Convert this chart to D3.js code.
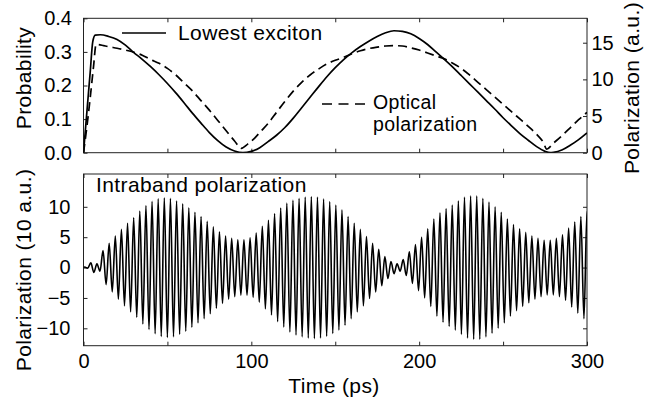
<!DOCTYPE html>
<html lang="en">
<head>
<meta charset="UTF-8">
<title>Exciton and polarization dynamics</title>
<script src="https://cdnjs.cloudflare.com/ajax/libs/d3/7.8.5/d3.min.js"></script>
<style>
    body { margin: 0; background: #fff; }
    svg { display: block; font-family: "Liberation Sans", Arial, Helvetica, sans-serif; }
    .tick line { stroke: #222; }
    .tick text { fill: #000; font-size: 20px; }
    .lbl { fill: #000; font-size: 21px; letter-spacing: 0.4px; }
</style>
</head>
<body>
<svg id="chart" width="649" height="404"></svg>
<script>
// ---- data ----
// top panel: lowest exciton probability (left axis)
const excitonT = [0, 2, 4, 5.5, 7, 10, 15, 20, 25, 30, 35, 40, 45, 50, 55, 60, 65, 70, 75, 80, 85, 90, 95,
    100, 105, 110, 115, 120, 125, 130, 135, 140, 145, 150, 155, 160, 165, 170, 175, 180, 185, 190, 195,
    200, 205, 210, 215, 220, 225, 230, 235, 240, 245, 250, 255, 260, 265, 270, 275, 278, 280, 285, 290, 295, 300];
const excitonP = [0, 0.12, 0.24, 0.33, 0.35, 0.351, 0.346, 0.337, 0.32, 0.298, 0.278, 0.256, 0.232, 0.206, 0.178,
    0.148, 0.117, 0.088, 0.06, 0.036, 0.017, 0.005, 0,
    0.004, 0.015, 0.033, 0.052, 0.075, 0.103, 0.134, 0.165, 0.196, 0.226, 0.253, 0.277, 0.298, 0.316, 0.332,
    0.346, 0.357, 0.363, 0.361, 0.354, 0.34, 0.322, 0.30, 0.278, 0.255, 0.23, 0.205, 0.18, 0.155, 0.13, 0.104,
    0.08, 0.057, 0.037, 0.018, 0.004, 0, 0.001, 0.008, 0.022, 0.039, 0.059];

// top panel: optical polarization (right axis, a.u.)
const opticalT = [0, 2, 4, 6, 7.5, 9, 12, 15, 20, 25, 30, 35, 40, 45, 50, 55, 60, 65, 70, 75, 80, 85, 90,
    94, 98, 102, 106, 110, 115, 120, 125, 130, 135, 140, 145, 150, 155, 160, 165, 170, 175, 180, 185, 190,
    195, 200, 205, 210, 215, 220, 225, 230, 235, 240, 245, 250, 255, 260, 265, 270, 274, 276, 280, 285, 290, 295, 300];
const opticalP = [0, 3.5, 7.5, 11.8, 14.8, 14.75, 14.6, 14.45, 14.25, 14.0, 13.7, 13.3, 12.7, 12.2, 11.5, 10.6,
    9.5, 8.4, 7.1, 5.8, 4.4, 3.0, 1.6,
    0.6, 1.2, 2.0, 3.0, 4.0, 5.5, 7.0, 8.4, 9.6, 10.6, 11.4, 12.1, 12.6, 13.0, 13.5, 13.9, 14.2, 14.4, 14.55,
    14.6, 14.55, 14.3, 14.0, 13.6, 13.2, 12.8, 12.2, 11.5, 10.6, 9.6, 8.6, 7.6, 6.6, 5.6, 4.6, 3.6, 2.5,
    1.4, 0.5, 1.3, 2.3, 3.4, 4.5, 5.5];

// bottom panel: intraband polarization, amplitude of each oscillation cycle (10 a.u.)
const cycleStart = 0.7;     // ps, first positive peak
const cyclePeriod = 3.65;   // ps
const intraAmp = [0.1, 0.8, 0.6, 2.8, 4.0, 5.2, 6.3, 7.3, 8.2, 9.3,
    10.2, 10.9, 11.35, 11.5, 11.4, 11.0, 10.5, 9.85, 9.1, 8.4,
    7.6, 6.7, 5.9, 5.2, 4.8, 4.55, 4.55, 4.9, 5.7, 6.8,
    7.8, 8.9, 9.8, 10.6, 11.1, 11.4, 11.6, 11.7, 11.6, 11.3,
    10.85, 10.3, 9.5, 8.4, 7.3, 6.3, 5.1, 4.0, 3.0, 1.8,
    1.0, 0.6, 1.3, 2.6, 3.8, 5.0, 6.4, 8.0, 9.0, 9.7,
    10.3, 11.0, 11.6, 11.8, 11.8, 11.4, 10.8, 10.0, 9.1, 8.0,
    7.1, 6.4, 5.8, 5.2, 4.8, 4.5, 4.5, 4.8, 5.4, 6.5,
    7.5, 8.4, 9.2];

// tick values
const timeTicks = [0, 50, 100, 150, 200, 250, 300];
const probTicks = [0, 0.1, 0.2, 0.3, 0.4];
const polTicks = [0, 5, 10, 15];
const intraTicks = [-10, -5, 0, 5, 10];

// ---- layout ----
const svg = d3.select("#chart");
const left = 83.5, right = 587;
const topPanel = { top: 18.3, bottom: 152.7 };
const botPanel = { top: 174, bottom: 345.7 };

const x = d3.scaleLinear().domain([0, 300]).range([left, right]);
const yProb = d3.scaleLinear().domain([0, 0.4]).range([topPanel.bottom, topPanel.top]);
const yPol = d3.scaleLinear().domain([0, 18.33]).range([topPanel.bottom, topPanel.top]);
const yIntra = d3.scaleLinear().domain([-12.86, 15.4]).range([botPanel.bottom, botPanel.top]);

const defs = svg.append("defs");
function clip(id, p) {
    defs.append("clipPath").attr("id", id)
        .append("rect")
        .attr("x", left).attr("y", p.top)
        .attr("width", right - left).attr("height", p.bottom - p.top);
}
clip("clipTop", topPanel);
clip("clipBot", botPanel);

function frame(p, yScale, yVals, leftFmt, leftPad, rightScale, rightVals, rightPad, bottomLabels) {
    // ticks all round, pointing inward
    const gl = svg.append("g").attr("transform", `translate(${left},0)`)
        .call(d3.axisLeft(yScale).tickValues(yVals).tickSize(-4).tickPadding(leftPad).tickFormat(leftFmt));
    const gr = svg.append("g").attr("transform", `translate(${right},0)`)
        .call(d3.axisRight(rightScale).tickValues(rightVals).tickSize(-4).tickPadding(rightPad)
            .tickFormat(rightPad ? d3.format("d") : () => ""));
    const gb = svg.append("g").attr("transform", `translate(0,${p.bottom})`)
        .call(d3.axisBottom(x).tickValues(timeTicks).tickSize(-4).tickPadding(8)
            .tickFormat(d => bottomLabels && d % 100 === 0 ? d : ""));
    const gt = svg.append("g").attr("transform", `translate(0,${p.top})`)
        .call(d3.axisTop(x).tickValues(timeTicks).tickSize(-4).tickFormat(() => ""));
    [gl, gr, gb, gt].forEach(g => { g.select(".domain").remove(); g.attr("font-family", null).attr("font-size", null); });

    svg.append("rect")
        .attr("x", left).attr("y", p.top)
        .attr("width", right - left).attr("height", p.bottom - p.top)
        .attr("fill", "none").attr("stroke", "#222").attr("stroke-width", 1);
}

frame(topPanel, yProb, probTicks, d3.format(".1f"), 11.5, yPol, polTicks, 4.5, false);
frame(botPanel, yIntra, intraTicks, d3.format("d"), 13, yIntra, intraTicks, 0, true);

// ---- top panel curves ----
const excitonLine = d3.line()
    .x((d, i) => x(excitonT[i]))
    .y(d => yProb(d))
    .curve(d3.curveMonotoneX);

const opticalLine = d3.line()
    .x((d, i) => x(opticalT[i]))
    .y(d => yPol(d))
    .curve(d3.curveMonotoneX);

const gTop = svg.append("g").attr("clip-path", "url(#clipTop)");
gTop.append("path")
    .attr("d", excitonLine(excitonP))
    .attr("fill", "none").attr("stroke", "#000").attr("stroke-width", 1.7);
gTop.append("path")
    .attr("d", opticalLine(opticalP))
    .attr("fill", "none").attr("stroke", "#000").attr("stroke-width", 1.7)
    .attr("stroke-dasharray", "9,5");

// legend
svg.append("line")
    .attr("x1", 122).attr("x2", 166).attr("y1", 33).attr("y2", 33)
    .attr("stroke", "#000").attr("stroke-width", 1.7);
svg.append("text").attr("class", "lbl").attr("x", 178).attr("y", 40).text("Lowest exciton");

svg.append("line")
    .attr("x1", 322).attr("x2", 365).attr("y1", 104).attr("y2", 104)
    .attr("stroke", "#000").attr("stroke-width", 1.7)
    .attr("stroke-dasharray", "10,6.5");
svg.append("text").attr("class", "lbl").attr("x", 373).attr("y", 109)
    .style("font-size", "19.5px").text("Optical");
svg.append("text").attr("class", "lbl").attr("x", 373).attr("y", 131)
    .style("font-size", "19.5px").text("polarization");

// ---- bottom panel: intraband oscillation ----
const intraPts = [[0, 0]];
intraAmp.forEach((a, k) => {
    const t = cycleStart + k * cyclePeriod;
    intraPts.push([t, a]);
    intraPts.push([t + cyclePeriod / 2, -a]);
});

const intraLine = d3.line()
    .x(d => x(d[0]))
    .y(d => yIntra(d[1]))
    .curve(d3.curveMonotoneX);

svg.append("g").attr("clip-path", "url(#clipBot)")
    .append("path")
    .attr("d", intraLine(intraPts))
    .attr("fill", "none").attr("stroke", "#000").attr("stroke-width", 1.6);

svg.append("text").attr("class", "lbl").attr("x", 96).attr("y", 192).text("Intraband polarization");

// ---- axis titles ----
svg.append("text").attr("class", "lbl")
    .attr("transform", "translate(31,78) rotate(-90)")
    .attr("text-anchor", "middle").text("Probability");

svg.append("text").attr("class", "lbl")
    .attr("transform", "translate(31,270) rotate(-90)")
    .attr("text-anchor", "middle").text("Polarization (10 a.u.)");

svg.append("text").attr("class", "lbl")
    .attr("transform", "translate(639,88) rotate(-90)")
    .attr("text-anchor", "middle").text("Polarization (a.u.)");

svg.append("text").attr("class", "lbl")
    .attr("x", 334).attr("y", 393)
    .attr("text-anchor", "middle").text("Time (ps)");
</script>
</body>
</html>
